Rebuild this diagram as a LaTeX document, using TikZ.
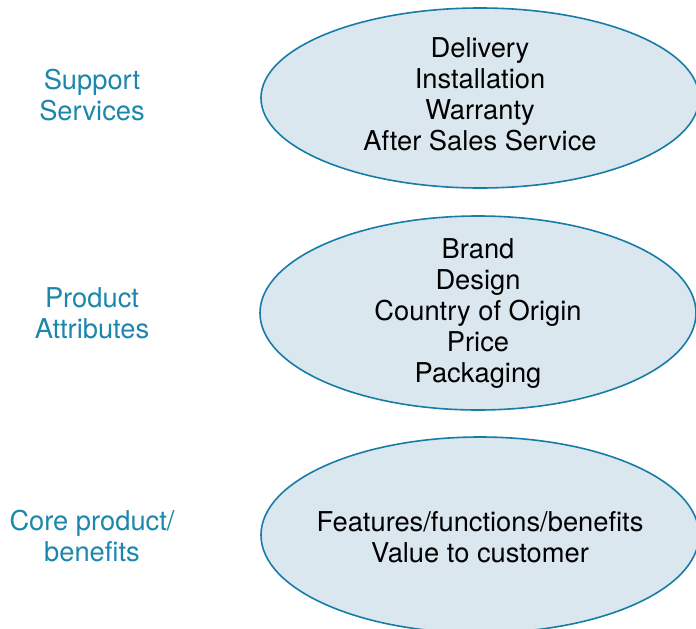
\documentclass[tikz,border=0pt]{standalone}
\usepackage{fontspec}
\setmainfont{TeX Gyre Heros}
\usepackage{tikz}
\usetikzlibrary{shapes.geometric,positioning}
\definecolor{ringline}{HTML}{177DA6}
\definecolor{ringfill}{HTML}{DAE7EF}
\definecolor{tagcolor}{HTML}{1B87AD}

\begin{document}
\begin{tikzpicture}[x=1pt, y=-1pt,
ring/.style={ellipse, draw=ringline, fill=ringfill, line width=1.6pt, inner sep=0pt},
ringtext/.style={align=center, font=\fontsize{27.3}{31}\selectfont},
tag/.style={text=tagcolor, align=center, font=\fontsize{27.3}{31}\selectfont}]
\useasboundingbox (0,0) rectangle (696,629);
\clip (0,0) rectangle (696,629);
% rings
\node [ring, minimum width=438pt, minimum height=180pt] (support) at (480,98) {};
\node [ring, minimum width=436pt, minimum height=194pt] (attrib) at (478,313) {};
\node [ring, minimum width=438pt, minimum height=196pt] (core) at (480,535) {};
% texts in the rings
\node [ringtext] (support_x) at ([yshift=4pt]support.center) {Delivery\\Installation\\Warranty\\After Sales Service};
\node [ringtext] (attrib_x) at ([yshift=-1pt]attrib.center) {Brand\\Design\\Country of Origin\\Price\\Packaging};
\node [ringtext] (core_x) at ([yshift=-2pt]core.center) {Features/functions/benefits\\Value to customer};
% labels on the left
\node [tag] (support_t) at (92,95.5) {Support\\Services};
\node [tag] (attrib_t) at (92,313.5) {Product\\Attributes};
\node [tag] (core_t) at (92,536.5) {Core product/\\benefits};
\end{tikzpicture}
\end{document}
